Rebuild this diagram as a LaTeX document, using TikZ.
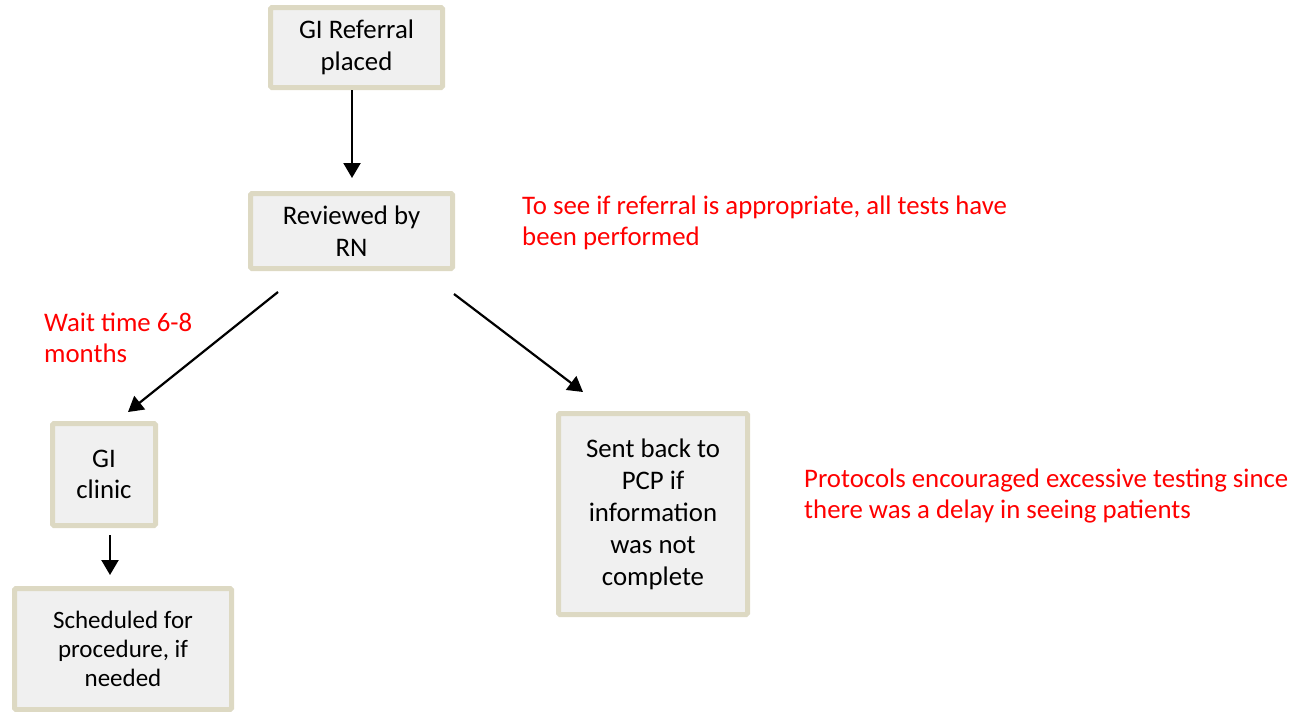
\documentclass[tikz,border=0pt]{standalone}
\usepackage{fontspec}
\setmainfont{Carlito}
\usetikzlibrary{arrows.meta}

\definecolor{boxfill}{HTML}{F0F0F0}
\definecolor{boxline}{HTML}{DDD9C3}
\definecolor{notered}{HTML}{FF0000}

\tikzset{
  stepbox/.style={draw=boxline, fill=boxfill, line width=5pt, rounded corners=1.5pt,
    align=center, inner sep=0pt, font=\fontsize{26.8}{31.5}\selectfont},
  note/.style={text=notered, align=left, inner sep=0pt, anchor=west,
    font=\fontsize{26.8}{31}\selectfont},
  arr/.style={line width=2.2pt, -{Triangle[length=15pt,width=17pt]}}
}

\begin{document}
\begin{tikzpicture}[x=1pt,y=1pt]
  \useasboundingbox (0,0) rectangle (1307,-712);

  % process boxes (sizes measured between stroke centres)
  \node[stepbox, minimum width=172pt, minimum height=80pt] (ref) at (356.5,-47.5)
    {GI Referral\\placed};
  \node[stepbox, minimum width=202pt, minimum height=75pt] (rev) at (351.5,-231)
    {Reviewed by\\RN};
  \node[stepbox, minimum width=103pt, minimum height=102pt] (clinic) at (104,-474.5)
    {GI\\clinic};
  \node[stepbox, minimum width=217pt, minimum height=121pt,
        font=\fontsize{25}{29}\selectfont] (sched) at (123,-649)
    {Scheduled for\\procedure, if\\needed};
  \node[stepbox, minimum width=189pt, minimum height=201pt,
        font=\fontsize{26.8}{32}\selectfont] (sent) at (653,-514)
    {Sent back to\\PCP if\\information\\was not\\complete};

  % annotations
  \node[note] (why) at (522,-223)
    {To see if referral is appropriate, all tests have\\been performed};
  \node[note] (wait) at (44,-337.5)
    {Wait time 6-8\\months};
  \node[note] (prot) at (804,-496)
    {Protocols encouraged excessive testing since\\there was a delay in seeing patients};

  % connectors
  \draw[arr, shorten >=13pt] ([xshift=-4.5pt]ref.south) -- ([xshift=0.5pt]rev.north);
  \draw[arr] ([shift={(-73.5pt,-21pt)}]rev.south) -- ([shift={(24pt,9pt)}]clinic.north);
  \draw[arr] ([shift={(102.5pt,-23pt)}]rev.south) -- ([shift={(-70pt,19pt)}]sent.north);
  \draw[arr] ([shift={(6pt,-7pt)}]clinic.south) -- ([shift={(-13pt,11pt)}]sched.north);
\end{tikzpicture}
\end{document}
